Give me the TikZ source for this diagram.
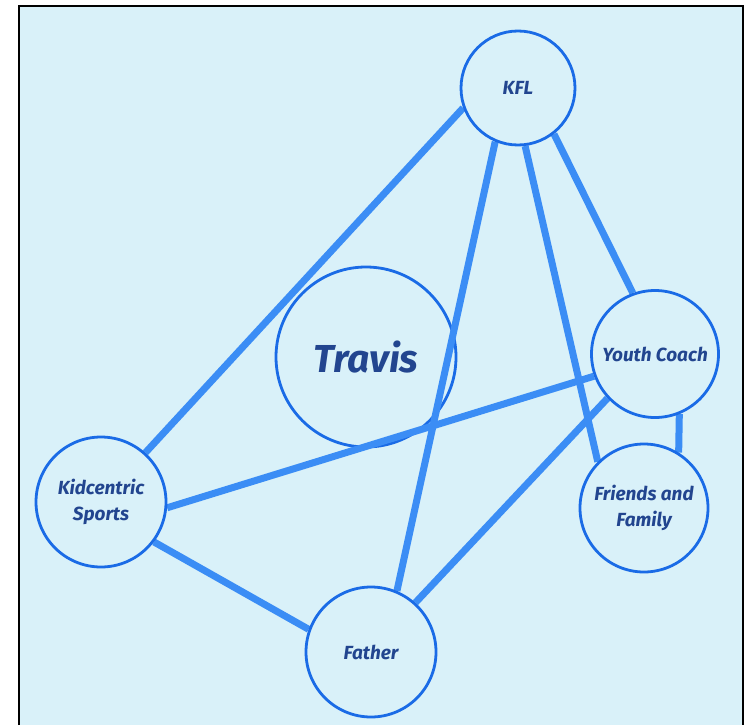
\documentclass[tikz,border=0pt]{standalone}
\usepackage{fontspec}
\setmainfont{Fira Sans}
\definecolor{bgblue}{HTML}{D9F1F9}
\definecolor{linkblue}{HTML}{3B8DF5}
\definecolor{ringblue}{HTML}{1A6BE6}
\definecolor{navy}{HTML}{22458F}
\pgfdeclarelayer{background}
\pgfsetlayers{background,main}
\begin{document}
\begin{tikzpicture}[x=1pt,y=-1pt,
  bubble/.style={circle, draw=ringblue, line width=2.8pt, fill=bgblue, text=navy,
    font=\fontsize{19}{26}\selectfont\bfseries\itshape, align=center, inner sep=0pt},
  hub/.style={circle, draw=ringblue, line width=2.8pt, text=navy,
    font=\fontsize{39}{42}\selectfont\bfseries\itshape, inner sep=0pt},
  link/.style={draw=linkblue, line width=7pt}]
\useasboundingbox (0,0) rectangle (749,725);
% outer nodes
\node[bubble, minimum size=114pt] (kfl) at (518,88) {KFL};
\node[bubble, minimum size=127pt] (yc) at (655,354) {Youth Coach};
\node[bubble, minimum size=128pt] (ff) at (644,508) {Friends and\\Family};
\node[bubble, minimum size=130pt] (kid) at (101,502) {Kidcentric\\Sports};
\node[bubble, minimum size=130pt] (fa) at (371,652) {Father};
\begin{pgfonlayer}{background}
\fill[white] (0,0) rectangle (749,725);
\fill[bgblue] (19,6) rectangle (743,725);
\draw[black, line width=2.2pt] (19,725) -- (19,6) -- (743,6) -- (743,725);
% hub
\node[hub, minimum size=180pt] (travis) at (366,357) {Travis};
% links
\draw[link] (kfl.200) -- (kid.48);
\draw[link] (kfl.247) -- (fa.67);
\draw[link] (kfl.-83) -- (ff.135);
\draw[link] (kfl.-52) -- (yc.110);
\draw[link] (yc.200) -- (kid.-5);
\draw[link] (yc.223) -- (fa.48);
\draw[link] (kid.-37) -- (fa.160);
\draw[link] (yc.-68) -- (ff.58);
\end{pgfonlayer}
\end{tikzpicture}
\end{document}
